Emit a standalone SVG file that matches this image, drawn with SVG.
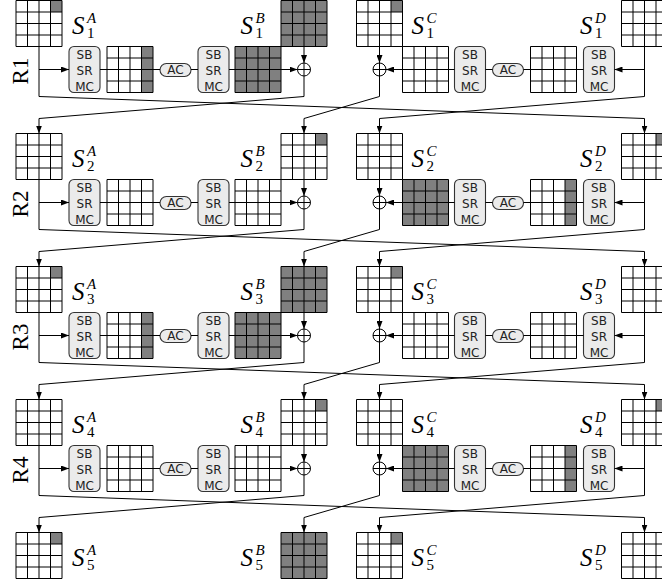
<svg xmlns="http://www.w3.org/2000/svg" xmlns:xlink="http://www.w3.org/1999/xlink" width="662" height="581" viewBox="0 0 662 581">
<style>
.gl{fill:none;stroke:#000;stroke-width:1}
.dk{fill:#808080}
.box{fill:#ebebeb;stroke:#333;stroke-width:1.1}
.bt{font-family:"DejaVu Sans",sans-serif;font-size:12px;text-anchor:middle;fill:#222}
.lab{font-family:"Liberation Serif",serif;font-size:25px;fill:#000}
.it{font-style:italic}
.ix{font-size:15px}
.rl{font-family:"Liberation Serif",serif;font-size:23px;text-anchor:middle;fill:#000}
.xor{fill:#fff;stroke:#000;stroke-width:1}
.cn{fill:none;stroke:#000;stroke-width:1}
.ar{marker-end:url(#ah)}
</style>
<defs>
<marker id="ah" viewBox="0 0 8 6" refX="8" refY="3" markerWidth="8" markerHeight="6" markerUnits="userSpaceOnUse" orient="auto"><path d="M0,0L8,3L0,6Z" fill="#000"/></marker>
<path id="grid" class="gl" d="M0,0H46V46H0Z M11.5,0V46 M23,0V46 M34.5,0V46 M0,11.5H46 M0,23H46 M0,34.5H46"/>
<rect id="full" width="46" height="46" class="dk"/>
<rect id="col" x="34.5" width="11.5" height="46" class="dk"/>
<rect id="tr" x="34.5" width="11.5" height="11.5" class="dk"/>
<rect id="sbr" width="31" height="46" rx="5" class="box"/>
<rect id="acr" width="31" height="13" rx="6.5" class="box"/>
<g id="xorg"><circle cx="0" cy="0" r="6.5" class="xor"/><path d="M-6.5,0H6.5M0,-6.5V6.5" class="gl"/></g>
</defs>
<rect width="662" height="581" fill="#fff"/>

<!-- ROW 1 -->
<g id="row1" transform="translate(0,0.5)">
<text class="rl" transform="translate(28,70.5) rotate(-90)">R1</text>
<g id="S1A"><use href="#tr" x="16"/><use href="#grid" x="16"/><text class="lab"><tspan class="it" x="72" y="33">S</tspan><tspan class="ix" x="87" y="37">1</tspan><tspan class="it ix" x="87" y="22.5">A</tspan></text></g>
<g id="r1_sb1"><use href="#sbr" x="69" y="46"/><text class="bt" x="84.5" y="58.5">SB</text><text class="bt" x="84.5" y="74">SR</text><text class="bt" x="84.5" y="90">MC</text></g>
<g id="r1_ga"><use href="#col" x="107" y="46"/><use href="#grid" x="107" y="46"/></g>
<g id="r1_ac1"><use href="#acr" x="160" y="63"/><text class="bt" x="175.5" y="73.5">AC</text></g>
<g id="r1_sb2"><use href="#sbr" x="198" y="46"/><text class="bt" x="213.5" y="58.5">SB</text><text class="bt" x="213.5" y="74">SR</text><text class="bt" x="213.5" y="90">MC</text></g>
<g id="r1_gb"><use href="#full" x="235" y="46"/><use href="#grid" x="235" y="46"/></g>
<g id="S1B"><use href="#full" x="281"/><use href="#grid" x="281"/><text class="lab"><tspan class="it" x="240.5" y="33">S</tspan><tspan class="ix" x="255.5" y="37">1</tspan><tspan class="it ix" x="255.5" y="22.5">B</tspan></text></g>
<g id="r1_xb"><use href="#xorg" x="304" y="69"/></g>
<g id="S1C"><use href="#tr" x="356.5"/><use href="#grid" x="356.5"/><text class="lab"><tspan class="it" x="411.5" y="33">S</tspan><tspan class="ix" x="426.5" y="37">1</tspan><tspan class="it ix" x="426.5" y="22.5">C</tspan></text></g>
<g id="r1_xc"><use href="#xorg" x="379.5" y="69"/></g>
<g id="r1_gc"><use href="#grid" x="402.5" y="46"/></g>
<g id="r1_sb3"><use href="#sbr" x="454.5" y="46"/><text class="bt" x="470" y="58.5">SB</text><text class="bt" x="470" y="74">SR</text><text class="bt" x="470" y="90">MC</text></g>
<g id="r1_ac2"><use href="#acr" x="492.5" y="63"/><text class="bt" x="508" y="73.5">AC</text></g>
<g id="r1_gd"><use href="#grid" x="530.5" y="46"/></g>
<g id="r1_sb4"><use href="#sbr" x="583.5" y="46"/><text class="bt" x="599" y="58.5">SB</text><text class="bt" x="599" y="74">SR</text><text class="bt" x="599" y="90">MC</text></g>
<g id="S1D"><use href="#grid" x="621.5"/><text class="lab"><tspan class="it" x="580" y="33">S</tspan><tspan class="ix" x="595" y="37">1</tspan><tspan class="it ix" x="595" y="22.5">D</tspan></text></g>
</g>

<!-- ROW 2 -->
<g id="row2" transform="translate(0,133.5)">
<text class="rl" transform="translate(28,70.5) rotate(-90)">R2</text>
<g id="S2A"><use href="#grid" x="16"/><text class="lab"><tspan class="it" x="72" y="33">S</tspan><tspan class="ix" x="87" y="37">2</tspan><tspan class="it ix" x="87" y="22.5">A</tspan></text></g>
<g id="r2_sb1"><use href="#sbr" x="69" y="46"/><text class="bt" x="84.5" y="58.5">SB</text><text class="bt" x="84.5" y="74">SR</text><text class="bt" x="84.5" y="90">MC</text></g>
<g id="r2_ga"><use href="#grid" x="107" y="46"/></g>
<g id="r2_ac1"><use href="#acr" x="160" y="63"/><text class="bt" x="175.5" y="73.5">AC</text></g>
<g id="r2_sb2"><use href="#sbr" x="198" y="46"/><text class="bt" x="213.5" y="58.5">SB</text><text class="bt" x="213.5" y="74">SR</text><text class="bt" x="213.5" y="90">MC</text></g>
<g id="r2_gb"><use href="#grid" x="235" y="46"/></g>
<g id="S2B"><use href="#tr" x="281"/><use href="#grid" x="281"/><text class="lab"><tspan class="it" x="240.5" y="33">S</tspan><tspan class="ix" x="255.5" y="37">2</tspan><tspan class="it ix" x="255.5" y="22.5">B</tspan></text></g>
<g id="r2_xb"><use href="#xorg" x="304" y="69"/></g>
<g id="S2C"><use href="#grid" x="356.5"/><text class="lab"><tspan class="it" x="411.5" y="33">S</tspan><tspan class="ix" x="426.5" y="37">2</tspan><tspan class="it ix" x="426.5" y="22.5">C</tspan></text></g>
<g id="r2_xc"><use href="#xorg" x="379.5" y="69"/></g>
<g id="r2_gc"><use href="#full" x="402.5" y="46"/><use href="#grid" x="402.5" y="46"/></g>
<g id="r2_sb3"><use href="#sbr" x="454.5" y="46"/><text class="bt" x="470" y="58.5">SB</text><text class="bt" x="470" y="74">SR</text><text class="bt" x="470" y="90">MC</text></g>
<g id="r2_ac2"><use href="#acr" x="492.5" y="63"/><text class="bt" x="508" y="73.5">AC</text></g>
<g id="r2_gd"><use href="#col" x="530.5" y="46"/><use href="#grid" x="530.5" y="46"/></g>
<g id="r2_sb4"><use href="#sbr" x="583.5" y="46"/><text class="bt" x="599" y="58.5">SB</text><text class="bt" x="599" y="74">SR</text><text class="bt" x="599" y="90">MC</text></g>
<g id="S2D"><use href="#tr" x="621.5"/><use href="#grid" x="621.5"/><text class="lab"><tspan class="it" x="580" y="33">S</tspan><tspan class="ix" x="595" y="37">2</tspan><tspan class="it ix" x="595" y="22.5">D</tspan></text></g>
</g>

<!-- ROW 3 -->
<g id="row3" transform="translate(0,266.5)">
<text class="rl" transform="translate(28,70.5) rotate(-90)">R3</text>
<g id="S3A"><use href="#tr" x="16"/><use href="#grid" x="16"/><text class="lab"><tspan class="it" x="72" y="33">S</tspan><tspan class="ix" x="87" y="37">3</tspan><tspan class="it ix" x="87" y="22.5">A</tspan></text></g>
<g id="r3_sb1"><use href="#sbr" x="69" y="46"/><text class="bt" x="84.5" y="58.5">SB</text><text class="bt" x="84.5" y="74">SR</text><text class="bt" x="84.5" y="90">MC</text></g>
<g id="r3_ga"><use href="#col" x="107" y="46"/><use href="#grid" x="107" y="46"/></g>
<g id="r3_ac1"><use href="#acr" x="160" y="63"/><text class="bt" x="175.5" y="73.5">AC</text></g>
<g id="r3_sb2"><use href="#sbr" x="198" y="46"/><text class="bt" x="213.5" y="58.5">SB</text><text class="bt" x="213.5" y="74">SR</text><text class="bt" x="213.5" y="90">MC</text></g>
<g id="r3_gb"><use href="#full" x="235" y="46"/><use href="#grid" x="235" y="46"/></g>
<g id="S3B"><use href="#full" x="281"/><use href="#grid" x="281"/><text class="lab"><tspan class="it" x="240.5" y="33">S</tspan><tspan class="ix" x="255.5" y="37">3</tspan><tspan class="it ix" x="255.5" y="22.5">B</tspan></text></g>
<g id="r3_xb"><use href="#xorg" x="304" y="69"/></g>
<g id="S3C"><use href="#tr" x="356.5"/><use href="#grid" x="356.5"/><text class="lab"><tspan class="it" x="411.5" y="33">S</tspan><tspan class="ix" x="426.5" y="37">3</tspan><tspan class="it ix" x="426.5" y="22.5">C</tspan></text></g>
<g id="r3_xc"><use href="#xorg" x="379.5" y="69"/></g>
<g id="r3_gc"><use href="#grid" x="402.5" y="46"/></g>
<g id="r3_sb3"><use href="#sbr" x="454.5" y="46"/><text class="bt" x="470" y="58.5">SB</text><text class="bt" x="470" y="74">SR</text><text class="bt" x="470" y="90">MC</text></g>
<g id="r3_ac2"><use href="#acr" x="492.5" y="63"/><text class="bt" x="508" y="73.5">AC</text></g>
<g id="r3_gd"><use href="#grid" x="530.5" y="46"/></g>
<g id="r3_sb4"><use href="#sbr" x="583.5" y="46"/><text class="bt" x="599" y="58.5">SB</text><text class="bt" x="599" y="74">SR</text><text class="bt" x="599" y="90">MC</text></g>
<g id="S3D"><use href="#grid" x="621.5"/><text class="lab"><tspan class="it" x="580" y="33">S</tspan><tspan class="ix" x="595" y="37">3</tspan><tspan class="it ix" x="595" y="22.5">D</tspan></text></g>
</g>

<!-- ROW 4 -->
<g id="row4" transform="translate(0,399.5)">
<text class="rl" transform="translate(28,70.5) rotate(-90)">R4</text>
<g id="S4A"><use href="#grid" x="16"/><text class="lab"><tspan class="it" x="72" y="33">S</tspan><tspan class="ix" x="87" y="37">4</tspan><tspan class="it ix" x="87" y="22.5">A</tspan></text></g>
<g id="r4_sb1"><use href="#sbr" x="69" y="46"/><text class="bt" x="84.5" y="58.5">SB</text><text class="bt" x="84.5" y="74">SR</text><text class="bt" x="84.5" y="90">MC</text></g>
<g id="r4_ga"><use href="#grid" x="107" y="46"/></g>
<g id="r4_ac1"><use href="#acr" x="160" y="63"/><text class="bt" x="175.5" y="73.5">AC</text></g>
<g id="r4_sb2"><use href="#sbr" x="198" y="46"/><text class="bt" x="213.5" y="58.5">SB</text><text class="bt" x="213.5" y="74">SR</text><text class="bt" x="213.5" y="90">MC</text></g>
<g id="r4_gb"><use href="#grid" x="235" y="46"/></g>
<g id="S4B"><use href="#tr" x="281"/><use href="#grid" x="281"/><text class="lab"><tspan class="it" x="240.5" y="33">S</tspan><tspan class="ix" x="255.5" y="37">4</tspan><tspan class="it ix" x="255.5" y="22.5">B</tspan></text></g>
<g id="r4_xb"><use href="#xorg" x="304" y="69"/></g>
<g id="S4C"><use href="#grid" x="356.5"/><text class="lab"><tspan class="it" x="411.5" y="33">S</tspan><tspan class="ix" x="426.5" y="37">4</tspan><tspan class="it ix" x="426.5" y="22.5">C</tspan></text></g>
<g id="r4_xc"><use href="#xorg" x="379.5" y="69"/></g>
<g id="r4_gc"><use href="#full" x="402.5" y="46"/><use href="#grid" x="402.5" y="46"/></g>
<g id="r4_sb3"><use href="#sbr" x="454.5" y="46"/><text class="bt" x="470" y="58.5">SB</text><text class="bt" x="470" y="74">SR</text><text class="bt" x="470" y="90">MC</text></g>
<g id="r4_ac2"><use href="#acr" x="492.5" y="63"/><text class="bt" x="508" y="73.5">AC</text></g>
<g id="r4_gd"><use href="#col" x="530.5" y="46"/><use href="#grid" x="530.5" y="46"/></g>
<g id="r4_sb4"><use href="#sbr" x="583.5" y="46"/><text class="bt" x="599" y="58.5">SB</text><text class="bt" x="599" y="74">SR</text><text class="bt" x="599" y="90">MC</text></g>
<g id="S4D"><use href="#tr" x="621.5"/><use href="#grid" x="621.5"/><text class="lab"><tspan class="it" x="580" y="33">S</tspan><tspan class="ix" x="595" y="37">4</tspan><tspan class="it ix" x="595" y="22.5">D</tspan></text></g>
</g>

<!-- ROW 5 -->
<g id="row5" transform="translate(0,532.5)">
<g id="S5A"><use href="#tr" x="16"/><use href="#grid" x="16"/><text class="lab"><tspan class="it" x="72" y="33">S</tspan><tspan class="ix" x="87" y="37">5</tspan><tspan class="it ix" x="87" y="22.5">A</tspan></text></g>
<g id="S5B"><use href="#full" x="281"/><use href="#grid" x="281"/><text class="lab"><tspan class="it" x="240.5" y="33">S</tspan><tspan class="ix" x="255.5" y="37">5</tspan><tspan class="it ix" x="255.5" y="22.5">B</tspan></text></g>
<g id="S5C"><use href="#tr" x="356.5"/><use href="#grid" x="356.5"/><text class="lab"><tspan class="it" x="411.5" y="33">S</tspan><tspan class="ix" x="426.5" y="37">5</tspan><tspan class="it ix" x="426.5" y="22.5">C</tspan></text></g>
<g id="S5D"><use href="#grid" x="621.5"/><text class="lab"><tspan class="it" x="580" y="33">S</tspan><tspan class="ix" x="595" y="37">5</tspan><tspan class="it ix" x="595" y="22.5">D</tspan></text></g>
</g>

<!-- CONNECTORS -->
<g id="connectors">
<defs>
<g id="rowconn">
<path class="cn ar" d="M39,46V96L644.5,118V133"/>
<path class="cn ar" d="M39,69H69"/>
<path class="cn" d="M100,69H107M153,69H160M191,69H198M229,69H235"/>
<path class="cn ar" d="M281,69H297.5"/>
<path class="cn ar" d="M304,46V62.5"/>
<path class="cn ar" d="M304,75.5V96L39,118V133"/>
<path class="cn ar" d="M644.5,46V96L379.5,118V133"/>
<path class="cn ar" d="M644.5,69H614.5"/>
<path class="cn" d="M583.5,69H576.5M530.5,69H523.5M492.5,69H485.5M454.5,69H448.5"/>
<path class="cn ar" d="M402.5,69H386"/>
<path class="cn ar" d="M379.5,46V62.5"/>
<path class="cn ar" d="M379.5,75.5V96L304,118V133"/>
</g>
</defs>
<use href="#rowconn" y="0.5"/>
<use href="#rowconn" y="133.5"/>
<use href="#rowconn" y="266.5"/>
<use href="#rowconn" y="399.5"/>
</g>
</svg>
